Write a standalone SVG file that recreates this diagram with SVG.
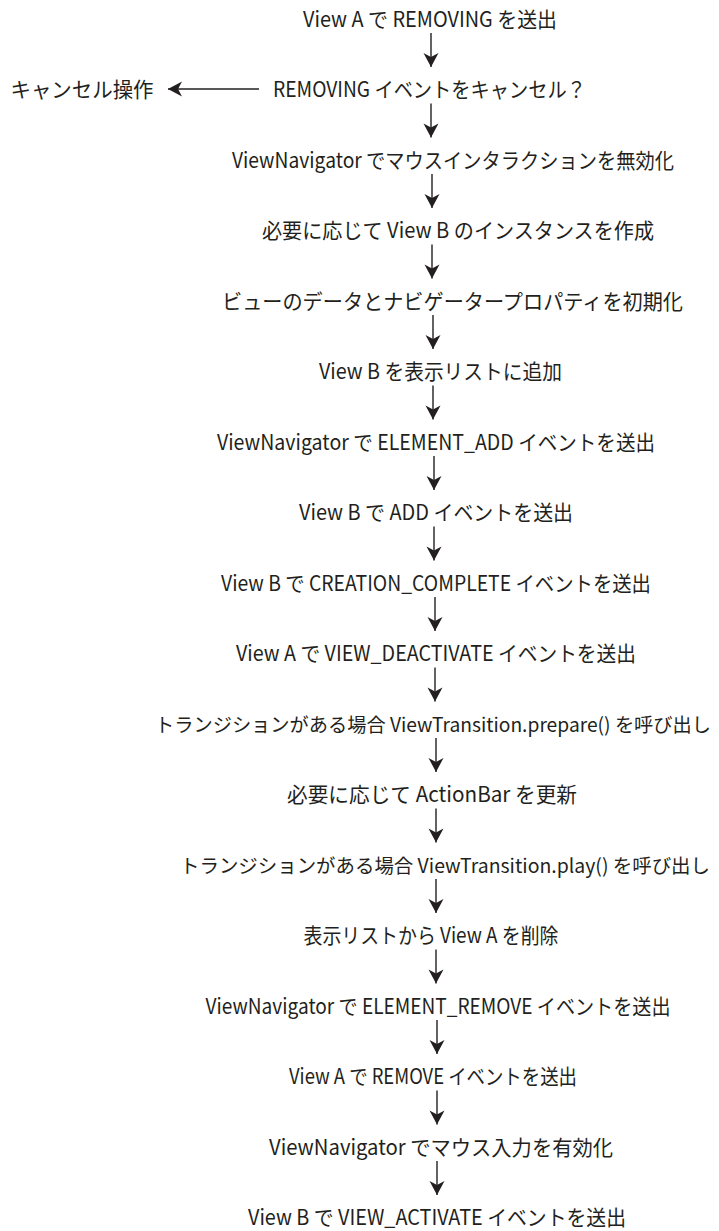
<svg xmlns="http://www.w3.org/2000/svg" width="719" height="1231" viewBox="0 0 719 1231">
<style>
text{font-family:"Noto Sans CJK JP","Noto Sans",sans-serif;font-size:21px;fill:#231f20;text-anchor:middle}
.c{stroke:#231f20;stroke-width:1.4;fill:none}
</style>
<defs>
<marker id="ah" markerUnits="userSpaceOnUse" markerWidth="18" markerHeight="18" viewBox="-16 -9 18 18" refX="0" refY="0" orient="auto">
<path d="M0,0 L-14,-7.5 L-10,0 L-14,7.5 Z" fill="#231f20"/>
</marker>
</defs>
<rect width="719" height="1231" fill="#fff"/>
<g id="connectors">
<path class="c" d="M431,33 V67" marker-end="url(#ah)"/>
<path class="c" d="M259,89 H168" marker-end="url(#ah)"/>
<path class="c" d="M431,103.5 V137.5" marker-end="url(#ah)"/>
<path class="c" d="M432,174 V208" marker-end="url(#ah)"/>
<path class="c" d="M432,244.5 V278.5" marker-end="url(#ah)"/>
<path class="c" d="M433,315 V349" marker-end="url(#ah)"/>
<path class="c" d="M433,385.5 V419.5" marker-end="url(#ah)"/>
<path class="c" d="M434,456 V490" marker-end="url(#ah)"/>
<path class="c" d="M434,526.5 V560.5" marker-end="url(#ah)"/>
<path class="c" d="M435,597 V631" marker-end="url(#ah)"/>
<path class="c" d="M435,667.5 V701.5" marker-end="url(#ah)"/>
<path class="c" d="M436,738 V772" marker-end="url(#ah)"/>
<path class="c" d="M436,808.5 V842.5" marker-end="url(#ah)"/>
<path class="c" d="M436,879 V913" marker-end="url(#ah)"/>
<path class="c" d="M436,949.5 V983.5" marker-end="url(#ah)"/>
<path class="c" d="M437,1020 V1054" marker-end="url(#ah)"/>
<path class="c" d="M437,1090.5 V1124.5" marker-end="url(#ah)"/>
<path class="c" d="M437,1161 V1195" marker-end="url(#ah)"/>
</g>
<g id="n1"><text x="430" y="26.5" textLength="254" lengthAdjust="spacingAndGlyphs">View A で REMOVING を送出</text></g>
<g id="n2"><text x="429.5" y="97" textLength="313" lengthAdjust="spacingAndGlyphs">REMOVING イベントをキャンセル？</text></g>
<g id="cancel"><text x="82" y="97" textLength="143" lengthAdjust="spacingAndGlyphs">キャンセル操作</text></g>
<g id="n3"><text x="453" y="167.5" textLength="442" lengthAdjust="spacingAndGlyphs">ViewNavigator でマウスインタラクションを無効化</text></g>
<g id="n4"><text x="458" y="238" textLength="392" lengthAdjust="spacingAndGlyphs">必要に応じて View B のインスタンスを作成</text></g>
<g id="n5"><text x="452.5" y="308.5" textLength="461" lengthAdjust="spacingAndGlyphs">ビューのデータとナビゲータープロパティを初期化</text></g>
<g id="n6"><text x="440.5" y="379" textLength="243" lengthAdjust="spacingAndGlyphs">View B を表示リストに追加</text></g>
<g id="n7"><text x="436" y="449.5" textLength="438" lengthAdjust="spacingAndGlyphs">ViewNavigator で ELEMENT_ADD イベントを送出</text></g>
<g id="n8"><text x="436" y="520" textLength="274" lengthAdjust="spacingAndGlyphs">View B で ADD イベントを送出</text></g>
<g id="n9"><text x="436" y="590.5" textLength="430" lengthAdjust="spacingAndGlyphs">View B で CREATION_COMPLETE イベントを送出</text></g>
<g id="n10"><text x="436" y="661" textLength="400" lengthAdjust="spacingAndGlyphs">View A で VIEW_DEACTIVATE イベントを送出</text></g>
<g id="n11"><text x="433" y="731.5" style="font-size:19.5px" textLength="556" lengthAdjust="spacingAndGlyphs">トランジションがある場合 ViewTransition.prepare() を呼び出し</text></g>
<g id="n12"><text x="432" y="802" textLength="290" lengthAdjust="spacingAndGlyphs">必要に応じて ActionBar を更新</text></g>
<g id="n13"><text x="445" y="872.5" style="font-size:19.5px" textLength="530" lengthAdjust="spacingAndGlyphs">トランジションがある場合 ViewTransition.play() を呼び出し</text></g>
<g id="n14"><text x="431" y="943" textLength="255" lengthAdjust="spacingAndGlyphs">表示リストから View A を削除</text></g>
<g id="n15"><text x="438" y="1013.5" textLength="465" lengthAdjust="spacingAndGlyphs">ViewNavigator で ELEMENT_REMOVE イベントを送出</text></g>
<g id="n16"><text x="433" y="1084" textLength="288" lengthAdjust="spacingAndGlyphs">View A で REMOVE イベントを送出</text></g>
<g id="n17"><text x="441" y="1154.5" textLength="344" lengthAdjust="spacingAndGlyphs">ViewNavigator でマウス入力を有効化</text></g>
<g id="n18"><text x="437" y="1225" textLength="378" lengthAdjust="spacingAndGlyphs">View B で VIEW_ACTIVATE イベントを送出</text></g>
</svg>
